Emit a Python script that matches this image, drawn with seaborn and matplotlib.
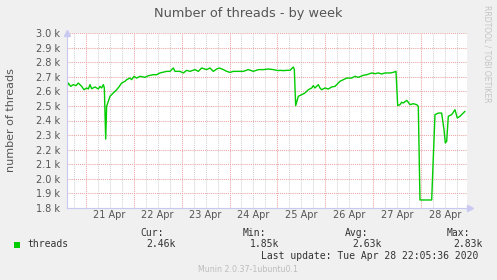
import matplotlib
matplotlib.use("Agg")
import matplotlib.pyplot as plt
import seaborn as sns
import pandas as pd
from matplotlib.patches import Rectangle
from matplotlib.ticker import FixedLocator, FuncFormatter

# ---- data (days since 21 Apr 2020 00:00, thread count) ----
days = [-0.397, -0.362, -0.314, -0.258, -0.202, -0.154, -0.084, -0.035, 0.020, 0.055,
        0.090, 0.124, 0.194, 0.264, 0.298, 0.333, 0.368, 0.389, 0.417, 0.437,
        0.507, 0.576, 0.646, 0.702, 0.750, 0.820, 0.855, 0.924, 0.959, 1.008,
        1.063, 1.133, 1.237, 1.306, 1.411, 1.480, 1.550, 1.689, 1.759, 1.828,
        1.863, 1.967, 2.037, 2.106, 2.176, 2.280, 2.349, 2.419, 2.523, 2.593,
        2.662, 2.732, 2.787, 2.871, 2.941, 3.010, 3.080, 3.184, 3.288, 3.392,
        3.497, 3.601, 3.705, 3.810, 3.914, 4.018, 4.053, 4.122, 4.192, 4.262,
        4.331, 4.352, 4.380, 4.435, 4.505, 4.575, 4.644, 4.714, 4.748, 4.783,
        4.853, 4.887, 4.922, 4.992, 5.061, 5.131, 5.200, 5.235, 5.305, 5.374,
        5.444, 5.548, 5.618, 5.687, 5.791, 5.861, 5.965, 6.035, 6.104, 6.174,
        6.243, 6.348, 6.417, 6.473, 6.508, 6.556, 6.591, 6.626, 6.695, 6.730,
        6.765, 6.834, 6.904, 6.938, 6.973, 7.217, 7.286, 7.356, 7.425, 7.474,
        7.502, 7.530, 7.564, 7.634, 7.703, 7.752, 7.808, 7.877, 7.912]
threads = [2623, 2657, 2634, 2646, 2639, 2657, 2634, 2611, 2623, 2616,
           2646, 2618, 2630, 2616, 2634, 2623, 2646, 2623, 2273, 2497,
           2566, 2589, 2611, 2634, 2657, 2669, 2680, 2691, 2680, 2703,
           2691, 2703, 2696, 2707, 2714, 2714, 2726, 2737, 2737, 2760,
           2737, 2737, 2726, 2744, 2737, 2749, 2737, 2760, 2749, 2760,
           2737, 2753, 2760, 2749, 2737, 2730, 2737, 2737, 2737, 2749,
           2737, 2749, 2749, 2753, 2749, 2742, 2744, 2742, 2744, 2744,
           2767, 2749, 2502, 2566, 2577, 2589, 2611, 2623, 2639, 2623,
           2646, 2623, 2611, 2623, 2616, 2630, 2634, 2646, 2669, 2680,
           2691, 2691, 2703, 2696, 2710, 2714, 2726, 2721, 2726, 2719,
           2726, 2726, 2730, 2737, 2502, 2509, 2525, 2520, 2538, 2525,
           2509, 2515, 2509, 2497, 1855, 1855, 2440, 2451, 2451, 2337,
           2246, 2257, 2429, 2440, 2474, 2417, 2429, 2451, 2463]

day_label_pos = [0.5, 1.5, 2.5, 3.5, 4.5, 5.5, 6.5, 7.5]
day_labels = ["21 Apr", "22 Apr", "23 Apr", "24 Apr", "25 Apr", "26 Apr", "27 Apr", "28 Apr"]
series_name = "threads"
stat_names = ["Cur:", "Min:", "Avg:", "Max:"]
stat_values = ["2.46k", "1.85k", "2.63k", "2.83k"]

W, H = 497, 280
sns.set_style("white")
plt.rcParams["font.family"] = ["DejaVu Sans"]

fig = plt.figure(figsize=(W / 100, H / 100), dpi=100, facecolor="#F0F0F0")
ax = fig.add_axes([67 / W, 1 - 208 / H, 400 / W, 175 / H])
ax.set_facecolor("white")

df = pd.DataFrame({"day": days, "threads": threads})

ax.set_xlim(-0.390, 7.954)
ax.set_ylim(1800, 3000)

# grid
ax.xaxis.set_major_locator(FixedLocator(list(range(0, 8))))
ax.xaxis.set_minor_locator(FixedLocator([d + q for d in range(-1, 8) for q in (0.25, 0.5, 0.75)]))
ax.yaxis.set_major_locator(FixedLocator(list(range(1800, 3001, 100))))
ax.grid(which="minor", axis="x", color="#D2D2D2", linestyle=(0, (1, 1)), linewidth=0.75)
ax.grid(which="major", axis="both", color="#EBA3A3", linestyle=(0, (1, 1)), linewidth=0.75)
ax.set_axisbelow(True)

sns.lineplot(data=df, x="day", y="threads", ax=ax, color="#00CC00", linewidth=1.0,
             sort=False, estimator=None, legend=False)

# ticks
ax.tick_params(axis="y", which="both", length=0)
ax.tick_params(axis="x", which="major", length=2.5, width=0.75, color="#E08080", direction="inout")
ax.tick_params(axis="x", which="minor", length=2.5, width=0.75, color="#C8C8C8", direction="inout")
ax.set_xticklabels([""] * 8)
for p, lab in zip(day_label_pos, day_labels):
    ax.text(p, -0.012, lab, transform=ax.get_xaxis_transform(), ha="center", va="top",
            fontsize=7, color="#555555")
ax.yaxis.set_major_formatter(FuncFormatter(lambda v, _: f"{v/1000:.1f} k"))
ax.tick_params(axis="y", labelsize=7, labelcolor="#555555", pad=5)
ax.set_xlabel("")
ax.set_ylabel("")

for s in ["top", "right"]:
    ax.spines[s].set_visible(False)
for s in ["left", "bottom"]:
    ax.spines[s].set_color("#C8C8F0")
    ax.spines[s].set_linewidth(0.8)
ax.plot([0], [1.0], marker="^", markersize=4, color="#C8C8F0", transform=ax.transAxes, clip_on=False)
ax.plot([1.008], [0], marker=">", markersize=4, color="#C8C8F0", transform=ax.transAxes, clip_on=False)

def fx(x):
    return x / W

def fy(y):
    return 1 - y / H

fig.text(fx(248), fy(13), "Number of threads - by week", ha="center", va="center",
         fontsize=9.3, color="#555555")
fig.text(fx(11), fy(120), "number of threads", rotation=90, ha="center", va="center",
         fontsize=8, color="#555555")
fig.text(fx(487), fy(5), "RRDTOOL / TOBI OETIKER", rotation=270, ha="center", va="top",
         fontsize=5.5, color="#C4C4C4")

mono = "DejaVu Sans Mono"
fig.patches.append(Rectangle((fx(14), fy(248)), 6 / W, 6 / H, transform=fig.transFigure,
                             facecolor="#00CC00", edgecolor="none"))
fig.text(fx(27), fy(244), series_name, ha="left", va="center", fontsize=7, family=mono, color="#333333")
name_x = [140, 243, 345, 447]
val_x = [146, 250, 352, 453]
for nx, vx, n, v in zip(name_x, val_x, stat_names, stat_values):
    fig.text(fx(nx), fy(233), n, ha="left", va="center", fontsize=7, family=mono, color="#333333")
    fig.text(fx(vx), fy(244), v, ha="left", va="center", fontsize=7, family=mono, color="#333333")
fig.text(fx(261), fy(256), "Last update: Tue Apr 28 22:05:36 2020", ha="left", va="center",
         fontsize=7, family=mono, color="#333333")
fig.text(fx(248), fy(269), "Munin 2.0.37-1ubuntu0.1", ha="center", va="center",
         fontsize=5.7, color="#BDBDBD")

fig.savefig("out.png", dpi=100, facecolor=fig.get_facecolor())
